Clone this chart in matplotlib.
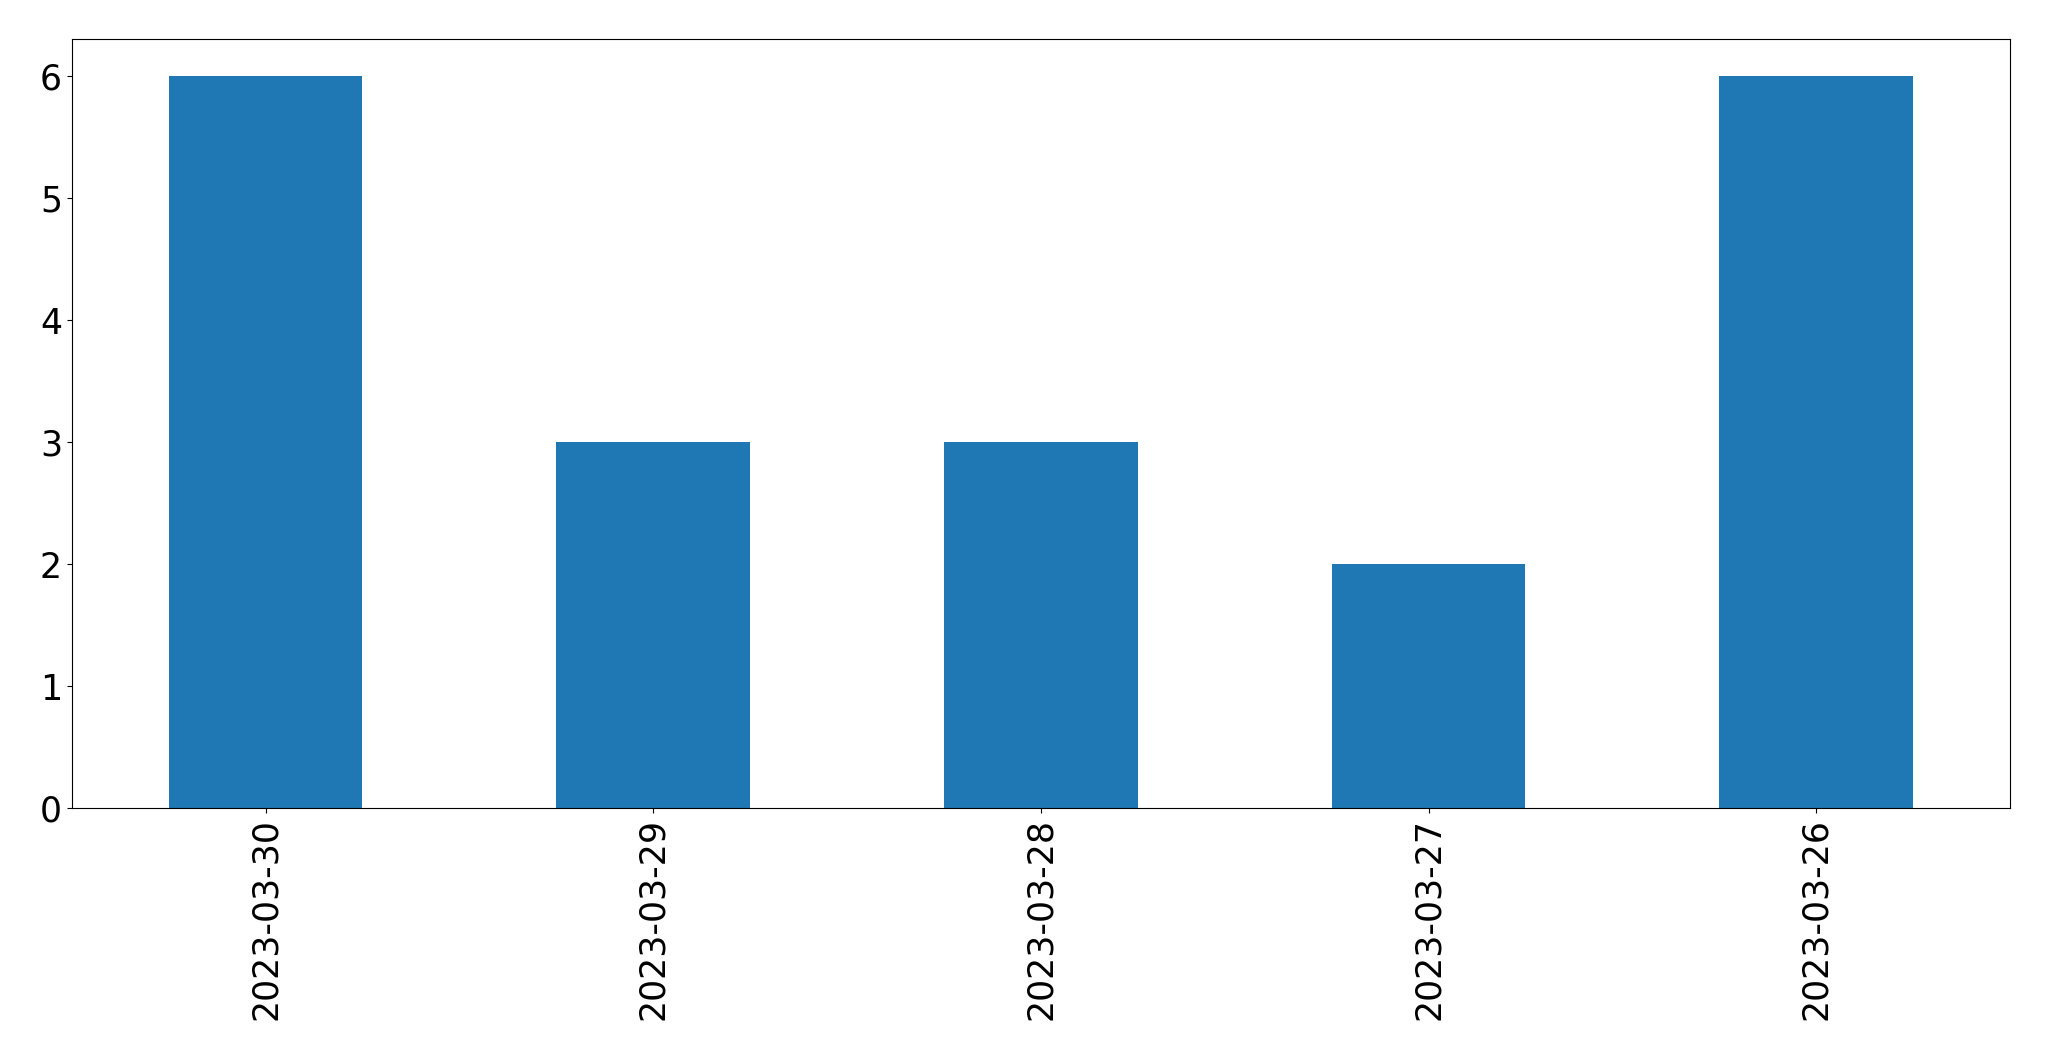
import matplotlib
matplotlib.use("Agg")
import matplotlib.pyplot as plt

dates = ['2023-03-30', '2023-03-29', '2023-03-28', '2023-03-27', '2023-03-26']
counts = [6, 3, 3, 2, 6]

fig, ax = plt.subplots(figsize=(20.49, 10.61), dpi=100)
x = range(len(dates))
ax.bar(x, counts, width=0.5, color='#1f77b4')
ax.set_xticks(list(x))
ax.set_xticklabels(dates, rotation=90)
ax.set_xlim(-0.5, len(dates) - 0.5)
ax.tick_params(labelsize=25)
plt.subplots_adjust(left=0.035, right=0.981, top=0.963, bottom=0.238)
plt.savefig('out.png')
